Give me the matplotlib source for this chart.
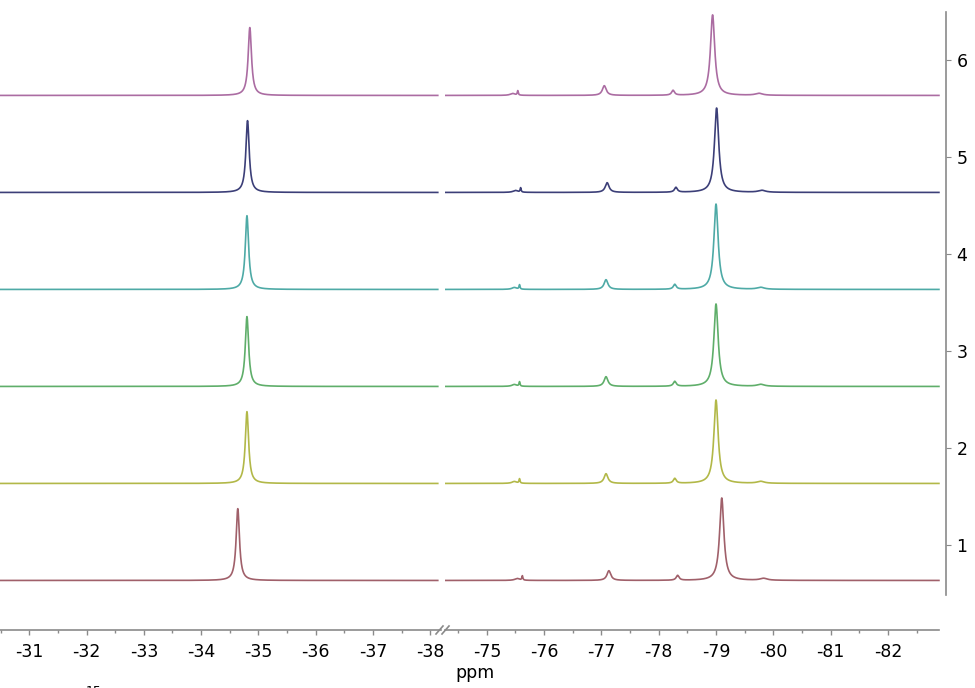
import numpy as np
import matplotlib.pyplot as plt
from matplotlib.lines import Line2D

plt.rcParams['axes.unicode_minus'] = False
plt.rcParams['font.family'] = ['DejaVu Sans']

# spectrum index shown on the right axis (bottom to top)
traces = [1, 2, 3, 4, 5, 6]
colors = ['#a0606a', '#b2b848', '#5fae6a', '#4eaaa6', '#3c3f78', '#ab6ca2']

# main peak around -35 ppm
left_pos = [-34.64, -34.80, -34.80, -34.80, -34.81, -34.85]
left_height = [0.74, 0.74, 0.72, 0.76, 0.74, 0.70]
left_width = 0.07

# main peak around -79 ppm
right_pos = [-79.10, -79.00, -79.00, -79.00, -79.01, -78.94]
right_height = [0.85, 0.86, 0.85, 0.88, 0.87, 0.83]
right_width = 0.09

# small peaks in the right region (same pattern in every trace)
minor_pos = [-75.48, -75.57, -77.08, -78.28, -79.78]
minor_height = [0.02, 0.045, 0.10, 0.05, 0.02]
minor_width = [0.10, 0.02, 0.08, 0.06, 0.15]
minor_shift = [-0.05, 0.0, 0.0, 0.0, -0.02, 0.03]

baseline_offset = 0.37

left_range = (-30.49, -38.13)
right_range = (-74.27, -82.89)

left_major = list(range(-31, -39, -1))
right_major = list(range(-75, -83, -1))


def lorentz(x, x0, h, w):
    return h / (1 + ((x - x0) / (w / 2)) ** 2)


px = 72 / 100  # points per pixel

fig = plt.figure(figsize=(9.75, 6.88), dpi=100)
bot = (688 - 595) / 688
hgt = 583 / 688
ax1 = fig.add_axes([0, bot, 441 / 975, hgt])
ax2 = fig.add_axes([445 / 975, bot, 501 / 975, hgt])

xl = np.linspace(left_range[0], left_range[1], 3000)
xr = np.linspace(right_range[0], right_range[1], 4000)

for i, t in enumerate(traces):
    base = t - baseline_offset
    yl = base + lorentz(xl, left_pos[i], left_height[i], left_width)
    yr = base + lorentz(xr, right_pos[i], right_height[i], right_width)
    for p, h, w in zip(minor_pos, minor_height, minor_width):
        yr = yr + lorentz(xr, p + minor_shift[i], h, w)
    ax1.plot(xl, yl, color=colors[i], lw=1.2)
    ax2.plot(xr, yr, color=colors[i], lw=1.2)

ax1.set_xticks(left_major)
ax1.set_xticks(np.arange(-30.5, -38.1, -0.5), minor=True)
ax1.set_xticklabels([str(v) for v in left_major])
ax2.set_xticks(right_major)
ax2.set_xticks(np.arange(-74.5, -82.9, -0.5), minor=True)
ax2.set_xticklabels([str(v) for v in right_major])

ax1.set_xlim(-30.49, -30.49 - 441 / 57.3)
ax2.set_xlim(-74.27, -74.27 - 501 / 57.3)
for ax in (ax1, ax2):
    ax.set_ylim(0.48, 6.49)
    ax.spines['top'].set_visible(False)
    ax.spines['left'].set_visible(False)
    ax.spines['bottom'].set_position(('outward', 35 * px))
    ax.spines['bottom'].set_color('#8a8a8a')
    ax.spines['bottom'].set_linewidth(1.2)
    ax.tick_params(axis='x', which='major', direction='out', length=5 * px, width=1,
                   color='#8a8a8a', labelsize=12.5, pad=8 * px)
    ax.tick_params(axis='x', which='minor', direction='out', length=3 * px, width=1, color='#8a8a8a')
    ax.patch.set_visible(False)

ax1.spines['right'].set_visible(False)
ax1.set_yticks([])
ax1.spines['bottom'].set_bounds(-30.49, -38.19)

ax2.spines['bottom'].set_bounds(-74.27, -82.89)
ax2.spines['right'].set_color('#8a8a8a')
ax2.spines['right'].set_linewidth(1.2)
ax2.yaxis.tick_right()
ax2.set_yticks(traces)
ax2.tick_params(axis='y', direction='out', length=5 * px, color='#8a8a8a', labelsize=12.5, pad=4)

# axis break marks
for x0 in (436, 442):
    fig.add_artist(Line2D([x0 / 975, (x0 + 7) / 975], [(688 - 634) / 688, (688 - 626) / 688],
                          color='#8a8a8a', lw=1.2))

fig.text(475 / 975, 1 - 673 / 688, 'ppm', ha='center', va='center', fontsize=12.5)
fig.text(86 / 975, 1 - 685 / 688, '15', ha='left', va='top', fontsize=9)

fig.savefig('out.png', dpi=100)
